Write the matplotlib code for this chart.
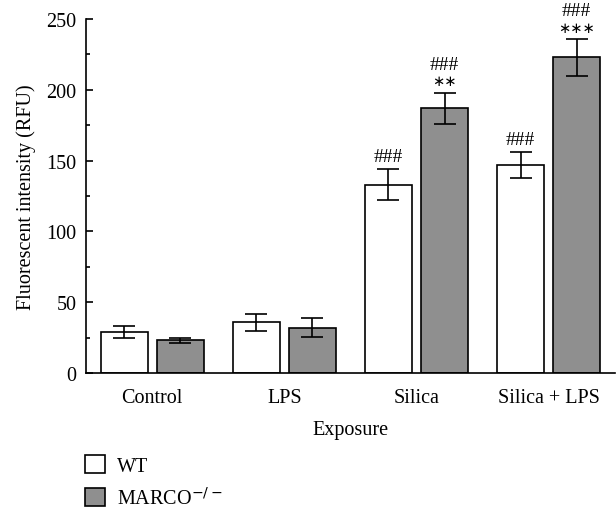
import numpy as np
import matplotlib.pyplot as plt
from matplotlib.patches import Patch
from matplotlib.ticker import MultipleLocator

plt.rcParams['font.family'] = ['Liberation Serif', 'DejaVu Serif']
plt.rcParams['font.size'] = 14.5

# Data
groups = ['Control', 'LPS', 'Silica', 'Silica + LPS']
wt_mean = [29, 36, 133, 147]
wt_err = [4, 6, 11, 9]
marco_mean = [23, 32, 187, 223]
marco_err = [1.5, 6.5, 11, 13]
wt_hash = ['', '', '###', '###']
wt_star = ['', '', '', '']
marco_hash = ['', '', '###', '###']
marco_star = ['', '', '**', '***']

x = np.arange(len(groups))
width = 0.355
off = 0.212

fig = plt.figure(figsize=(6.16, 5.10), dpi=100)
ax = fig.add_axes([0.1396, 0.2667, 0.8584, 0.6941])

ax.bar(x - off, wt_mean, width, color='white', edgecolor='black', linewidth=1.2, zorder=2)
ax.bar(x + off, marco_mean, width, color='#8f8f8f', edgecolor='black', linewidth=1.2, zorder=2)
ax.errorbar(x - off, wt_mean, yerr=wt_err, fmt='none', ecolor='black', elinewidth=1.2,
            capsize=8, capthick=1.2, zorder=3)
ax.errorbar(x + off, marco_mean, yerr=marco_err, fmt='none', ecolor='black', elinewidth=1.2,
            capsize=8, capthick=1.2, zorder=3)


def mark(xs, means, errs, hashes, stars):
    for xi, m, e, h, s in zip(xs, means, errs, hashes, stars):
        dy = 3
        if s:
            ax.annotate('∗' * len(s), (xi, m + e), xytext=(0, dy),
                        textcoords='offset points', ha='center', va='bottom',
                        fontsize=10.5, family='DejaVu Sans')
            dy += 11
        if h:
            ax.annotate(h, (xi, m + e), xytext=(0, dy), textcoords='offset points',
                        ha='center', va='bottom', fontsize=14)


mark(x - off, wt_mean, wt_err, wt_hash, wt_star)
mark(x + off, marco_mean, marco_err, marco_hash, marco_star)

ax.set_xlim(-0.5, 3.5)
ax.set_ylim(0, 250)
ax.set_xticks(x)
ax.set_xticklabels(groups)
ax.tick_params(axis='x', length=0, pad=11)
ax.yaxis.set_major_locator(MultipleLocator(50))
ax.yaxis.set_minor_locator(MultipleLocator(25))
ax.tick_params(axis='y', which='major', direction='in', length=5, width=1.2, pad=7)
ax.tick_params(axis='y', which='minor', direction='in', length=3, width=1.2)
ax.spines['top'].set_visible(False)
ax.spines['right'].set_visible(False)
ax.spines['left'].set_linewidth(1.2)
ax.spines['bottom'].set_linewidth(1.2)
ax.set_xlabel('Exposure', labelpad=9)
ax.set_ylabel('Fluorescent intensity (RFU)', labelpad=7)

handles = [Patch(facecolor='white', edgecolor='black', linewidth=1.2),
           Patch(facecolor='#8f8f8f', edgecolor='black', linewidth=1.2)]
fig.legend(handles, ['WT', r'MARCO$^{-/-}$'], loc='upper left', bbox_to_anchor=(0.138, 0.106),
           frameon=False, handlelength=1.0, handleheight=1.0, handletextpad=0.6,
           labelspacing=0.55, borderaxespad=0, borderpad=0)

fig.savefig('out.png', dpi=100)
